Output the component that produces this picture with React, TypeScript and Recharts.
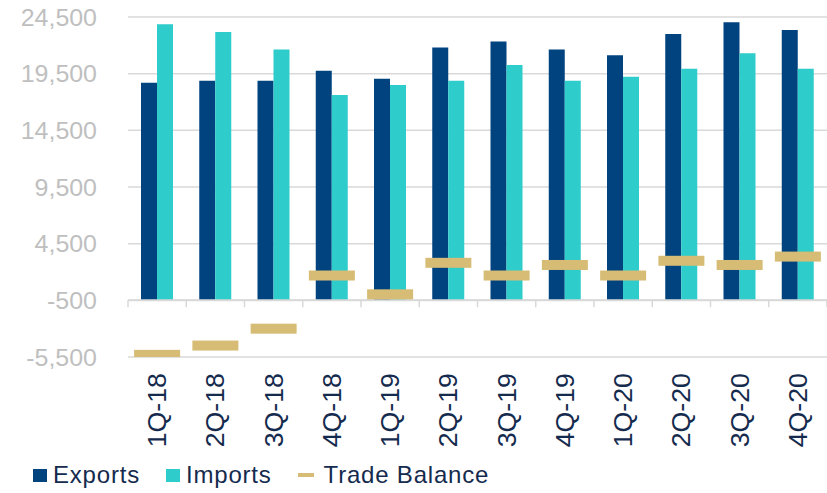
import { ComposedChart, Bar, Line, XAxis, YAxis, CartesianGrid, ReferenceLine, Legend } from 'recharts';

const quarters = ['1Q-18', '2Q-18', '3Q-18', '4Q-18', '1Q-19', '2Q-19', '3Q-19', '4Q-19', '1Q-20', '2Q-20', '3Q-20', '4Q-20'];
const exportsValues = [18690, 18870, 18870, 19760, 19050, 21810, 22330, 21640, 21130, 23010, 24040, 23350];
const importsValues = [23870, 23180, 21640, 17610, 18510, 18870, 20270, 18870, 19230, 19930, 21300, 19930];
const balanceValues = [-5310, -4490, -3000, 1690, 30, 2810, 1690, 2620, 1690, 2990, 2620, 3360];
const yTicks = [-5500, -500, 4500, 9500, 14500, 19500, 24500];

// horizontal axis crosses at -500, bars start there
const AXIS_CROSS = -500;

const EXPORTS_COLOR = '#00437F';
const IMPORTS_COLOR = '#2ECCCB';
const BALANCE_COLOR = '#D6BC74';
const TEXT_DARK = '#152B4E';
const FONT = '"Liberation Sans", Arial, sans-serif';

const data = quarters.map((q, i) => ({
  name: q,
  exports: [AXIS_CROSS, exportsValues[i]],
  imports: [AXIS_CROSS, importsValues[i]],
  balance: balanceValues[i],
}));

const YTick = (props: any) => {
  const { y, payload } = props;
  return (
    <text
      transform={`translate(97,${y}) scale(1.04,1)`}
      textAnchor="end"
      dy="0.36em"
      fontSize={24}
      fontFamily={FONT}
      fill="#BFBFBF"
    >
      {payload.value.toLocaleString('en-US')}
    </text>
  );
};

const XTick = (props: any) => {
  const { x, y, payload } = props;
  return (
    <text
      transform={`translate(${x},${y + 16}) rotate(-90) scale(1.07,1)`}
      textAnchor="end"
      dy="0.36em"
      fontSize={25}
      fontFamily={FONT}
      fill={TEXT_DARK}
    >
      {payload.value}
    </text>
  );
};

// axis line with small tick marks between categories
const AxisLine = (props: any) => {
  const { x1, x2, y1 } = props;
  const step = (x2 - x1) / quarters.length;
  return (
    <g>
      <line x1={x1} x2={x2} y1={y1} y2={y1} stroke="#D9D9D9" strokeWidth={2} />
      {quarters.concat(['']).map((_, i) => (
        <line key={i} x1={x1 + i * step} x2={x1 + i * step} y1={y1} y2={y1 + 7} stroke="#D9D9D9" strokeWidth={1.5} />
      ))}
    </g>
  );
};

const BalanceDash = (props: any) => {
  const { cx, cy } = props;
  if (cx == null || cy == null) return null;
  return <rect x={cx - 23} y={cy - 5} width={46} height={10} fill={BALANCE_COLOR} />;
};

const CustomLegend = () => {
  const items = [
    { label: 'Exports', icon: <span style={{ width: 14, height: 13, background: EXPORTS_COLOR, display: 'inline-block' }} /> },
    { label: 'Imports', icon: <span style={{ width: 14, height: 13, background: IMPORTS_COLOR, display: 'inline-block' }} /> },
    { label: 'Trade Balance', icon: <span style={{ width: 16, height: 4, background: BALANCE_COLOR, display: 'inline-block' }} /> },
  ];
  return (
    <div style={{ display: 'flex', alignItems: 'center', height: 36, paddingLeft: 33, fontFamily: FONT, fontSize: 24, color: TEXT_DARK }}>
      {items.map((it, i) => (
        <div key={i} style={{ display: 'flex', alignItems: 'center', marginRight: 26 }}>
          {it.icon}
          <span style={{ marginLeft: i === 2 ? 10 : 6, letterSpacing: 0.8, lineHeight: '36px' }}>{it.label}</span>
        </div>
      ))}
    </div>
  );
};

const App = () => {
  return (
    <div style={{ position: 'absolute', left: 0, top: 0, background: '#fff' }}>
      <ComposedChart
        width={827}
        height={493}
        data={data}
        barGap={0}
        margin={{ top: 17, right: 0, left: 0, bottom: 0 }}
      >
        <CartesianGrid vertical={false} stroke="#D9D9D9" strokeWidth={1.5} />
        <XAxis
          dataKey="name"
          axisLine={false}
          tickLine={false}
          tickSize={0}
          tickMargin={0}
          height={100}
          interval={0}
          tick={<XTick />}
        />
        <YAxis
          type="number"
          domain={[-5500, 24500]}
          ticks={yTicks}
          width={128}
          axisLine={false}
          tickLine={false}
          tick={<YTick />}
          allowDataOverflow
        />
        <Legend verticalAlign="bottom" align="left" height={36} content={<CustomLegend />} />
        <Bar dataKey="exports" name="Exports" fill={EXPORTS_COLOR} barSize={16} isAnimationActive={false} />
        <Bar dataKey="imports" name="Imports" fill={IMPORTS_COLOR} barSize={16} isAnimationActive={false} />
        <ReferenceLine y={AXIS_CROSS} shape={<AxisLine />} />
        <Line
          dataKey="balance"
          name="Trade Balance"
          stroke="none"
          dot={<BalanceDash />}
          activeDot={false}
          isAnimationActive={false}
        />
      </ComposedChart>
    </div>
  );
};

export default App;
